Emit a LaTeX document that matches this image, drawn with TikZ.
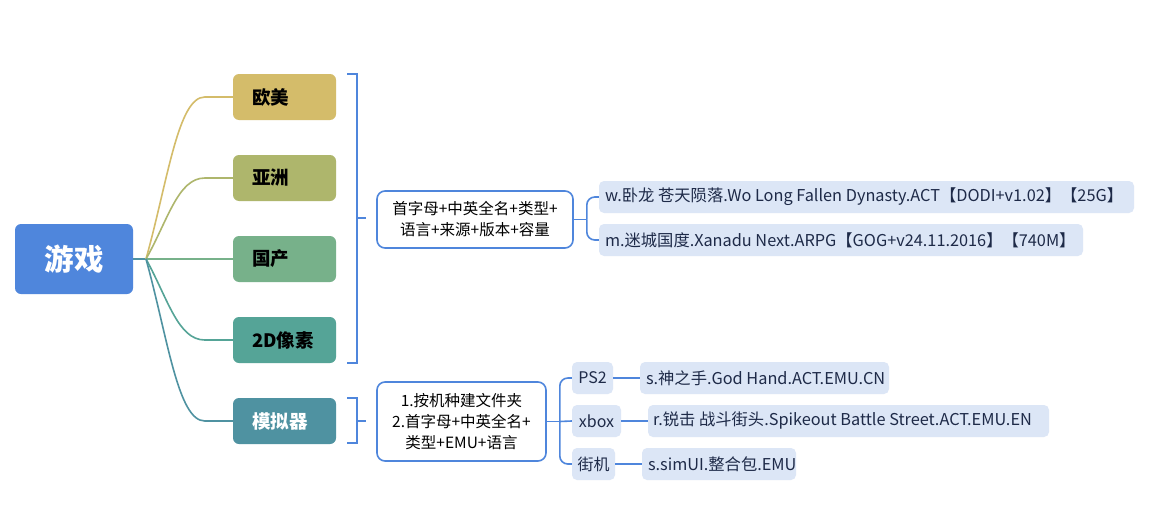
\documentclass[tikz,border=0pt]{standalone}
\usepackage{fontspec}
\setmainfont{Noto Sans CJK SC}
\usetikzlibrary{calc}
\definecolor{rootc}{RGB}{79,134,220}
\definecolor{c1}{RGB}{212,188,106}
\definecolor{c2}{RGB}{174,182,108}
\definecolor{c3}{RGB}{119,177,138}
\definecolor{c4}{RGB}{85,164,151}
\definecolor{c5}{RGB}{79,146,161}
\definecolor{lnblue}{RGB}{79,134,220}
\definecolor{leaffill}{RGB}{220,230,246}
\definecolor{leaftext}{RGB}{30,42,72}
\newcommand{\lbx}[2]{\hbox to #1{#2\hss}}
\tikzset{
  rootbox/.style={draw=none, fill=rootc, rounded corners=6, minimum width=118, minimum height=70, inner sep=0, text=white, font=\fontsize{29.5}{34}\selectfont\bfseries},
  branch/.style={draw=none, rounded corners=6, minimum width=103, minimum height=46, inner sep=0, font=\fontsize{18.5}{22}\selectfont\bfseries},
  framebox/.style={draw=lnblue, line width=1.6, fill=white, rounded corners=8, inner sep=0, align=center, font=\fontsize{15.5}{21}\selectfont, text=black},
  leaf/.style={fill=leaffill, rounded corners=5, minimum height=32, inner ysep=0, inner xsep=6, text=leaftext, font=\fontsize{16.3}{19}\selectfont},
  tag/.style={fill=leaffill, rounded corners=5, minimum height=32, inner sep=0, text=leaftext, font=\fontsize{16}{19}\selectfont},
  conn/.style={line width=1.6},
  blueln/.style={draw=lnblue, line width=1.6},
}
\begin{document}
\begin{tikzpicture}[x=1pt,y=-1pt]
\fill[white] (0,0) rectangle (1172,511);
\useasboundingbox (0,0) rectangle (1172,511);
% root
\node[rootbox] (root) at (74,259) {游戏};
% branches
\node[branch, fill=c1] (ou) at (284.5,97) {\lbx{65pt}{欧美}};
\node[branch, fill=c2] (ya) at (284.5,178) {\lbx{65pt}{亚洲}};
\node[branch, fill=c3] (guo) at (284.5,259) {\lbx{65pt}{国产}};
\node[branch, fill=c4] (pix) at (284.5,340) {\lbx{65pt}{2D像素}};
\node[branch, fill=c5, text=white] (emu) at (284.5,421) {\lbx{65pt}{模拟器}};
% fan
\coordinate (fan) at (146,259);
\draw[conn, draw=c5] (root.east) -- (fan);
\draw[conn, draw=c1] (fan) .. controls (168,180) and (178,97) .. ($(ou.west)+(-28,0)$) -- (ou.west);
\draw[conn, draw=c2] (fan) .. controls (168,220) and (178,178) .. ($(ya.west)+(-28,0)$) -- (ya.west);
\draw[conn, draw=c3] (fan) -- (guo.west);
\draw[conn, draw=c4] (fan) .. controls (168,299) and (178,340) .. ($(pix.west)+(-28,0)$) -- (pix.west);
\draw[conn, draw=c5] (fan) .. controls (168,339) and (178,421) .. ($(emu.west)+(-28,0)$) -- (emu.west);
% boxes
\node[framebox, minimum width=196, minimum height=57] (box1) at (475,219.5) {首字母+中英全名+类型+\\语言+来源+版本+容量};
\node[framebox, minimum width=169, minimum height=79] (box2) at (461.5,421.5) {1.按机种建文件夹\\2.首字母+中英全名+\\类型+EMU+语言};
% brackets
\coordinate (b1t) at (347,74);
\coordinate (b1b) at (347,363);
\coordinate (b1m) at (357,218);
\draw[blueln] (b1t) -- ++(10,0) |- (b1b);
\draw[blueln] (b1m) -- ++(9,0);
\coordinate (b2t) at (347,398);
\coordinate (b2b) at (347,443);
\coordinate (b2m) at (357,421);
\draw[blueln] (b2t) -- ++(10,0) |- (b2b);
\draw[blueln] (b2m) -- ++(9,0);
% leaves group 1
\node[leaf, minimum width=535] (l1) at (866.5,197) {\lbx{523pt}{w.卧龙 苍天陨落.Wo Long Fallen Dynasty.ACT【DODI+v1.02】【25G】}};
\node[leaf, minimum width=484] (l2) at (841,240) {\lbx{472pt}{m.迷城国度.Xanadu Next.ARPG【GOG+v24.11.2016】【740M】}};
\draw[blueln] (box1.east) -- ++(13,0) coordinate (f1);
\draw[blueln, rounded corners=8] (f1) |- (l1.west);
\draw[blueln, rounded corners=8] (f1) |- (l2.west);
% group 2
\node[tag, minimum width=41] (ps2) at (592.5,378) {PS2};
\node[tag, minimum width=49] (xbox) at (596.5,421) {xbox};
\node[tag, minimum width=43] (jj) at (593.5,464) {街机};
\draw[blueln] (box2.east) -- ++(13,0) coordinate (f2);
\draw[blueln, rounded corners=8] (f2) |- (ps2.west);
\draw[blueln] (f2) -- (xbox.west);
\draw[blueln, rounded corners=8] (f2) |- (jj.west);
\node[leaf, minimum width=249] (lps) at (764.5,378) {\lbx{237pt}{s.神之手.God Hand.ACT.EMU.CN}};
\node[leaf, minimum width=401, inner xsep=5] (lxb) at (848.5,421) {\lbx{391pt}{r.锐击 战斗街头.Spikeout Battle Street.ACT.EMU.EN}};
\node[leaf, minimum width=154] (ljj) at (719,464) {\lbx{142pt}{s.simUI.整合包.EMU}};
\draw[blueln] (ps2.east) -- (lps.west);
\draw[blueln] (xbox.east) -- (lxb.west);
\draw[blueln] (jj.east) -- (ljj.west);
\end{tikzpicture}
\end{document}
